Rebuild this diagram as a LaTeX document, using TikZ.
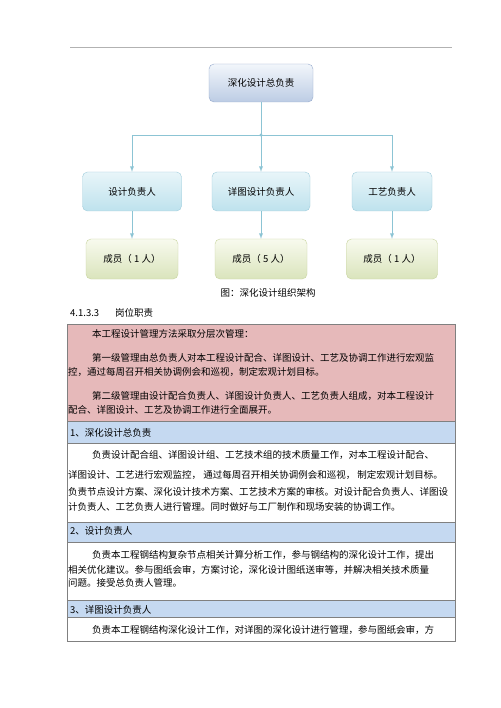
\documentclass[tikz,border=0pt]{standalone}
\usepackage{fontspec}
\setmainfont{Noto Sans CJK SC}
\definecolor{linkcol}{RGB}{140,196,212}
\definecolor{pinkfill}{RGB}{230,185,186}
\definecolor{headfill}{RGB}{197,217,241}
\definecolor{rulecol}{RGB}{128,128,128}
\begin{document}
\begin{tikzpicture}[x=1pt,y=-1pt,
  every node/.style={font=\fontsize{9.5}{11}\selectfont, inner sep=0pt},
  chiefbox/.style={draw={rgb,255:red,150;green,170;blue,205}, rounded corners=5pt,
    top color={rgb,255:red,242;green,246;blue,251}, bottom color={rgb,255:red,188;green,204;blue,228},
    minimum width=104pt, minimum height=38pt},
  leadbox/.style={draw={rgb,255:red,160;green,205;blue,220}, rounded corners=5pt,
    top color={rgb,255:red,232;green,245;blue,249}, bottom color={rgb,255:red,190;green,226;blue,237},
    minimum height=39pt},
  crewbox/.style={draw={rgb,255:red,200;green,212;blue,160}, rounded corners=5pt,
    top color={rgb,255:red,248;green,250;blue,238}, bottom color={rgb,255:red,218;green,228;blue,188},
    minimum height=40pt},
  link/.style={draw=linkcol, line width=0.9pt},
  txt/.style={anchor=base west},
  rule/.style={draw=rulecol, line width=0.8pt}]
\useasboundingbox (0,0) rectangle (500,708);
\fill[white] (0,0) rectangle (500,708);
\draw[gray!60, line width=0.8pt] (70,47) -- (452,47);

% organisation chart
\node[chiefbox] (chief) at (261,83) {深化设计总负责};
\foreach \n/\x/\w/\t in {a/132/99/设计负责人, b/261/98/详图设计负责人, c/392/80/工艺负责人}
  \node[leadbox, minimum width=\w pt] (lead\n) at (\x,191.5) {\t};
\foreach \n/\x/\w/\t in {a/132/92/{成员（ 1 人）}, b/261/92/{成员（ 5 人）}, c/392/91/{成员（ 1 人）}}
  \node[crewbox, minimum width=\w pt] (crew\n) at (\x,259) {\t};
\coordinate (fork) at (261,135);
\draw[link] (chief) -- (fork);
\fill[linkcol] (fork) circle (1.6);
\draw[link,-latex] (fork) -- (leadb);
\draw[link,-latex] (fork) -| (leada);
\draw[link,-latex] (fork) -| (leadc);
\foreach \n in {a,b,c} \draw[link,-latex] (lead\n) -- (crew\n);
\node (caption) at (268,293) {图：深化设计组织架构};

% section heading
\node[txt] (secno) at (70,316) {4.1.3.3};
\node[txt] (secname) at (115,316) {岗位职责};

% duties table
\fill[pinkfill] (67,324) rectangle (455,421);
\fill[headfill] (67,421) rectangle (455,443);
\fill[headfill] (67,522) rectangle (455,542);
\fill[headfill] (67,600) rectangle (455,617);
\foreach \y in {421,443,522,542,600,617} \draw[rule] (67,\y) -- (455,\y);
\draw[rule] (67,324) rectangle (455,641);
\foreach \y/\x/\t [count=\i] in {
  334/92/{本工程设计管理方法采取分层次管理：},
  358/92/{第一级管理由总负责人对本工程设计配合、详图设计、工艺及协调工作进行宏观监},
  372/68/{控，通过每周召开相关协调例会和巡视，制定宏观计划目标。},
  396/92/{第二级管理由设计配合负责人、详图设计负责人、工艺负责人组成，对本工程设计},
  410/68/{配合、详图设计、工艺及协调工作进行全面展开。},
  433/70/{1、深化设计总负责},
  455/92/{负责设计配合组、详图设计组、工艺技术组的技术质量工作，对本工程设计配合、},
  475/68/{详图设计、工艺进行宏观监控， 通过每周召开相关协调例会和巡视， 制定宏观计划目标。},
  492/68/{负责节点设计方案、深化设计技术方案、工艺技术方案的审核。对设计配合负责人、详图设},
  507/68/{计负责人、工艺负责人进行管理。同时做好与工厂制作和现场安装的协调工作。},
  531/70/{2、设计负责人},
  555/92/{负责本工程钢结构复杂节点相关计算分析工作，参与钢结构的深化设计工作，提出},
  570/68/{相关优化建议。参与图纸会审，方案讨论，深化设计图纸送审等，并解决相关技术质量},
  583/68/{问题。接受总负责人管理。},
  610/70/{3、详图设计负责人},
  630/92/{负责本工程钢结构深化设计工作，对详图的深化设计进行管理，参与图纸会审，方}}
  \node[txt] (line\i) at (\x,\y+3.7) {\t};
\end{tikzpicture}
\end{document}
